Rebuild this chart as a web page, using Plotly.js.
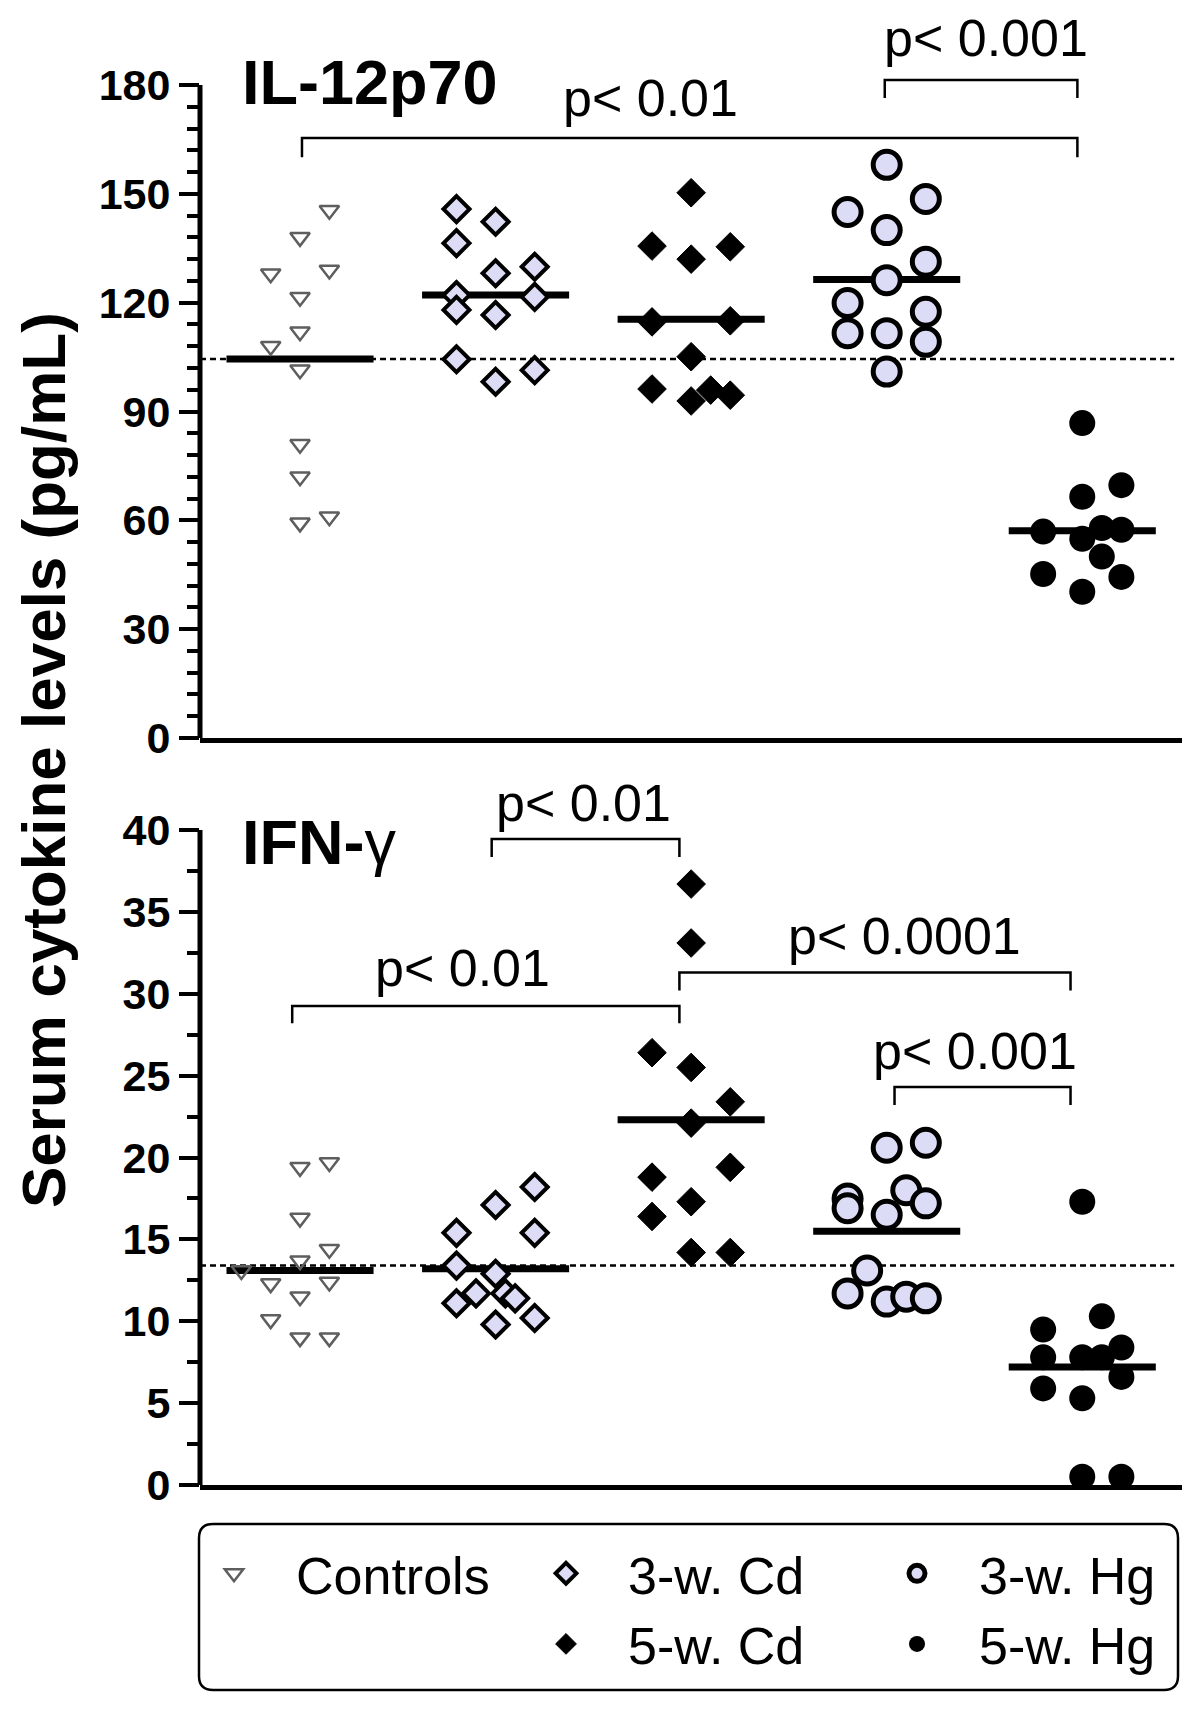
<!DOCTYPE html>
<html>
<head>
<meta charset="utf-8">
<script src="https://cdn.plot.ly/plotly-3.0.1.min.js"></script>
<style>
  html, body { margin: 0; padding: 0; background: #fff; }
  #chart { width: 1200px; height: 1709px; }
</style>
</head>
<body>
<div id="chart"></div>
<script>
/*
  Serum IL-12p70 and IFN-gamma levels per treatment group, drawn as two
  stacked dot plots with median bars and significance brackets.
*/

const groupNames = ['Controls', '3-w. Cd', '5-w. Cd', '3-w. Hg', '5-w. Hg'];

// IL-12p70 (pg/mL): values per group, and the sideways scatter of each dot
const il12Controls = [145.5, 138, 128, 129, 121.5, 112, 108, 101.5, 81, 72, 59.3, 61];
const il12ControlsJitter = [0.15, 0, -0.15, 0.15, 0, 0, -0.15, 0, 0, 0, 0, 0.15];
const il12Cd3 = [145.8, 142.3, 136.4, 128.1, 129.9, 122.1, 121.6, 118, 116.6, 104.4, 101.4, 98.2];
const il12Cd3Jitter = [-0.2, 0, -0.2, 0, 0.2, -0.2, 0.2, -0.2, 0, -0.2, 0.2, 0];
const il12Cd5 = [150.3, 135.6, 132, 135.4, 114.7, 115, 105.1, 96.2, 92.9, 95.9, 94.5];
const il12Cd5Jitter = [0, -0.2, 0, 0.2, -0.2, 0.2, 0, -0.2, 0, 0.1, 0.2];
const il12Hg3 = [158, 145, 148.6, 140, 131.3, 126.2, 119.9, 117.5, 111.6, 111.6, 109.2, 101];
const il12Hg3Jitter = [0, -0.2, 0.2, 0, 0.2, 0, -0.2, 0.2, -0.2, 0, 0.2, 0];
const il12Hg5 = [86.8, 69.7, 66.5, 56.9, 54.9, 57.9, 57.4, 50, 45.2, 44.4, 40.3];
const il12Hg5Jitter = [0, 0.2, 0, -0.2, 0, 0.1, 0.2, 0.1, -0.2, 0.2, 0];
const il12Medians = [104.5, 122.1, 115.4, 126.4, 57.1];
const il12ControlLevel = 104.5;

// IFN-gamma (pg/mL)
const ifnControls = [19.4, 19.7, 16.3, 14.4, 13.7, 13.1, 12.3, 12.4, 11.5, 10.1, 9.0, 9.0];
const ifnControlsJitter = [0, 0.15, 0, 0.15, 0, -0.3, -0.15, 0.15, 0, -0.15, 0, 0.15];
const ifnCd3 = [18.2, 17.1, 15.4, 15.4, 13.4, 12.9, 11.7, 11.7, 11.4, 11.1, 10.2, 9.8];
const ifnCd3Jitter = [0.2, 0, 0.2, -0.2, -0.2, 0, -0.1, 0.05, 0.1, -0.2, 0.2, 0];
const ifnCd5 = [36.7, 33.1, 26.4, 25.5, 23.4, 22.1, 19.4, 18.8, 17.3, 16.4, 14.2, 14.2];
const ifnCd5Jitter = [0, 0, -0.2, 0, 0.2, 0, 0.2, -0.2, 0, -0.2, 0, 0.2];
const ifnHg3 = [20.6, 20.9, 18.0, 17.5, 16.9, 17.2, 16.5, 13.1, 11.7, 11.2, 11.5, 11.4];
const ifnHg3Jitter = [0, 0.2, 0.1, -0.2, -0.2, 0.2, 0, -0.1, -0.2, 0, 0.1, 0.2];
const ifnHg5 = [17.3, 10.3, 9.5, 7.8, 7.8, 7.8, 8.4, 6.6, 5.9, 5.3, 0.5, 0.5];
const ifnHg5Jitter = [0, 0.1, -0.2, -0.2, 0, 0.1, 0.2, 0.2, -0.2, 0, 0, 0.2];
const ifnMedians = [13.1, 13.2, 22.3, 15.5, 7.2];
const ifnControlLevel = 13.4;

// significance brackets: [from group, to group, bar level, tip level, label, label x, label y]
const il12Brackets = [
  [0.01, 3.975, 165.4, 160.1, 'p< 0.01', 1.79, 168.0],
  [2.99, 3.975, 181.4, 176.4, 'p< 0.001', 3.51, 184.5],
];
const ifnBrackets = [
  [0.98, 1.94, 39.45, 38.35, 'p< 0.01', 1.45, 39.78],
  [-0.04, 1.94, 29.25, 28.2, 'p< 0.01', 0.83, 29.7],
  [1.94, 3.94, 31.3, 30.2, 'p< 0.0001', 3.09, 31.66],
  [3.04, 3.94, 24.3, 23.2, 'p< 0.001', 3.45, 24.64],
];

const il12Ticks = [0, 30, 60, 90, 120, 150, 180];
const ifnTicks = [0, 5, 10, 15, 20, 25, 30, 35, 40];

const FONT = 'Liberation Sans, Arial, sans-serif';
const W = 1200, H = 1709;
const px = x => x / W;
const py = y => 1 - y / H;
const LAVENDER = '#dcdcf6';

const markerStyles = [
  { symbol: 'triangle-down-open', size: 17, color: '#5e5e5e', line: { width: 2.5, color: '#5e5e5e' } },
  { symbol: 'diamond', size: 20, color: LAVENDER, line: { width: 4, color: '#000' } },
  { symbol: 'diamond', size: 22, color: '#000', line: { width: 1, color: '#000' } },
  { symbol: 'circle', size: 27, color: LAVENDER, line: { width: 5, color: '#000' } },
  { symbol: 'circle', size: 26, color: '#000', line: { width: 0, color: '#000' } },
];
const legendFor = ['legend', 'legend2', 'legend2', 'legend3', 'legend3'];

function medianTraces(medians, xa, ya) {
  return medians.map((m, g) => ({
    x: [g - 0.376, g + 0.376], y: [m, m],
    xaxis: xa, yaxis: ya, type: 'scatter', mode: 'lines',
    line: { color: '#000', width: 7 }, showlegend: false, hoverinfo: 'skip',
  }));
}

function dotTraces(series, xa, ya, withLegend) {
  return series.map(([values, jitter], g) => ({
    x: values.map((v, i) => g + jitter[i]), y: values,
    xaxis: xa, yaxis: ya, type: 'scatter', mode: 'markers',
    name: groupNames[g], marker: markerStyles[g],
    showlegend: withLegend, legend: legendFor[g], cliponaxis: false,
  }));
}

const il12Series = [
  [il12Controls, il12ControlsJitter], [il12Cd3, il12Cd3Jitter], [il12Cd5, il12Cd5Jitter],
  [il12Hg3, il12Hg3Jitter], [il12Hg5, il12Hg5Jitter],
];
const ifnSeries = [
  [ifnControls, ifnControlsJitter], [ifnCd3, ifnCd3Jitter], [ifnCd5, ifnCd5Jitter],
  [ifnHg3, ifnHg3Jitter], [ifnHg5, ifnHg5Jitter],
];

const traces = [
  ...medianTraces(il12Medians, 'x', 'y'),
  ...dotTraces(il12Series, 'x', 'y', true),
  ...medianTraces(ifnMedians, 'x2', 'y2'),
  ...dotTraces(ifnSeries, 'x2', 'y2', false),
];

// minor ticks sit between the labelled ones
function minorBetween(ticks, parts) {
  const out = [];
  for (let i = 0; i < ticks.length - 1; i++) {
    const step = (ticks[i + 1] - ticks[i]) / parts;
    for (let k = 1; k < parts; k++) out.push(ticks[i] + k * step);
  }
  return out;
}

function bracketShapes(list, xa, ya) {
  return list.map(([x0, x1, top, tip]) => ({
    type: 'path', xref: xa, yref: ya, layer: 'above',
    path: `M${x0},${tip} L${x0},${top} L${x1},${top} L${x1},${tip}`,
    line: { color: '#000', width: 2.5 },
  }));
}

function bracketLabels(list, xa, ya) {
  return list.map(b => ({
    xref: xa, yref: ya, x: b[5], y: b[6], text: b[4], showarrow: false,
    xanchor: 'center', yanchor: 'bottom', font: { family: FONT, size: 52, color: '#000' },
  }));
}

function roundedBox(x0, y0, x1, y1, r) {
  const X = v => px(v), Y = v => py(v);
  return `M${X(x0 + r)},${Y(y0)} L${X(x1 - r)},${Y(y0)} Q${X(x1)},${Y(y0)} ${X(x1)},${Y(y0 + r)} ` +
    `L${X(x1)},${Y(y1 - r)} Q${X(x1)},${Y(y1)} ${X(x1 - r)},${Y(y1)} ` +
    `L${X(x0 + r)},${Y(y1)} Q${X(x0)},${Y(y1)} ${X(x0)},${Y(y1 - r)} ` +
    `L${X(x0)},${Y(y0 + r)} Q${X(x0)},${Y(y0)} ${X(x0 + r)},${Y(y0)} Z`;
}

// pixel frame of the two panels
const il12Zero = 738, il12PxPerUnit = (738 - 85) / 180, il12Max = 190;
const ifnZero = 1485, ifnTop = 830;
const xDomain = [px(200), px(1182)];
const xRange = [-0.5115, 4.51];

const xAxisBase = {
  domain: xDomain, range: xRange, showline: true, linewidth: 5, linecolor: '#000',
  ticks: '', showticklabels: false, showgrid: false, zeroline: false, fixedrange: true,
};
function yAxis(domain, range, tickvals, minorParts) {
  return {
    domain, range, tickmode: 'array', tickvals,
    ticks: 'outside', ticklen: 20, tickwidth: 4, tickcolor: '#000',
    minor: {
      tickmode: 'array', tickvals: minorBetween(tickvals, minorParts),
      ticks: 'outside', ticklen: 12, tickwidth: 4, tickcolor: '#000', showgrid: false,
    },
    tickfont: { family: FONT, size: 43, weight: 'bold', color: '#000' },
    showline: false, showgrid: false, zeroline: false, fixedrange: true,
  };
}

const legendBase = {
  orientation: 'v', xanchor: 'left', yanchor: 'top', y: py(1533),
  font: { family: FONT, size: 52, color: '#000' },
  itemwidth: 114, bgcolor: 'rgba(0,0,0,0)', borderwidth: 0,
  itemclick: false, itemdoubleclick: false,
};

const layout = {
  width: W, height: H,
  margin: { l: 0, r: 0, t: 0, b: 0 },
  paper_bgcolor: '#fff', plot_bgcolor: '#fff',
  font: { family: FONT, color: '#000' },
  xaxis: { ...xAxisBase, anchor: 'y' },
  yaxis: yAxis([py(il12Zero), py(il12Zero - il12Max * il12PxPerUnit)], [0, il12Max], il12Ticks, 5),
  xaxis2: { ...xAxisBase, anchor: 'y2' },
  yaxis2: yAxis([py(ifnZero), py(ifnTop)], [0, 40], ifnTicks, 2),
  legend: { ...legendBase, x: px(172) },
  legend2: { ...legendBase, x: px(504) },
  legend3: { ...legendBase, x: px(855) },
  shapes: [
    // y axis lines, stopping at the last labelled tick
    { type: 'line', xref: 'x domain', yref: 'y', x0: 0, x1: 0, y0: 0, y1: 180, line: { color: '#000', width: 5 } },
    { type: 'line', xref: 'x2 domain', yref: 'y2', x0: 0, x1: 0, y0: 0, y1: 40, line: { color: '#000', width: 5 } },
    // control median carried across each panel
    { type: 'line', layer: 'below', xref: 'x domain', yref: 'y', x0: 0, x1: 0.992, y0: il12ControlLevel, y1: il12ControlLevel,
      line: { color: '#000', width: 2.5, dash: '6px,4px' } },
    { type: 'line', layer: 'below', xref: 'x2 domain', yref: 'y2', x0: 0, x1: 0.992, y0: ifnControlLevel, y1: ifnControlLevel,
      line: { color: '#000', width: 2.5, dash: '6px,4px' } },
    ...bracketShapes(il12Brackets, 'x', 'y'),
    ...bracketShapes(ifnBrackets, 'x2', 'y2'),
    { type: 'path', xref: 'paper', yref: 'paper', path: roundedBox(199, 1524, 1178, 1690, 14),
      line: { color: '#000', width: 2.5 } },
  ],
  annotations: [
    ...bracketLabels(il12Brackets, 'x', 'y'),
    ...bracketLabels(ifnBrackets, 'x2', 'y2'),
    { xref: 'paper', yref: 'paper', x: px(240), y: py(82), xanchor: 'left', yanchor: 'middle',
      text: '<b>IL-12p70</b>', showarrow: false, font: { family: FONT, size: 63, color: '#000' } },
    { xref: 'paper', yref: 'paper', x: px(240), y: py(842), xanchor: 'left', yanchor: 'middle',
      text: '<b>IFN-</b>γ', showarrow: false, font: { family: FONT, size: 63, color: '#000' } },
    { xref: 'paper', yref: 'paper', x: px(43), y: py(760), xanchor: 'center', yanchor: 'middle',
      textangle: -90, text: '<b>Serum cytokine levels (pg/mL)</b>', showarrow: false,
      font: { family: FONT, size: 62, color: '#000' } },
  ],
};

Plotly.newPlot('chart', traces, layout, { displayModeBar: false, responsive: false });
</script>
</body>
</html>
